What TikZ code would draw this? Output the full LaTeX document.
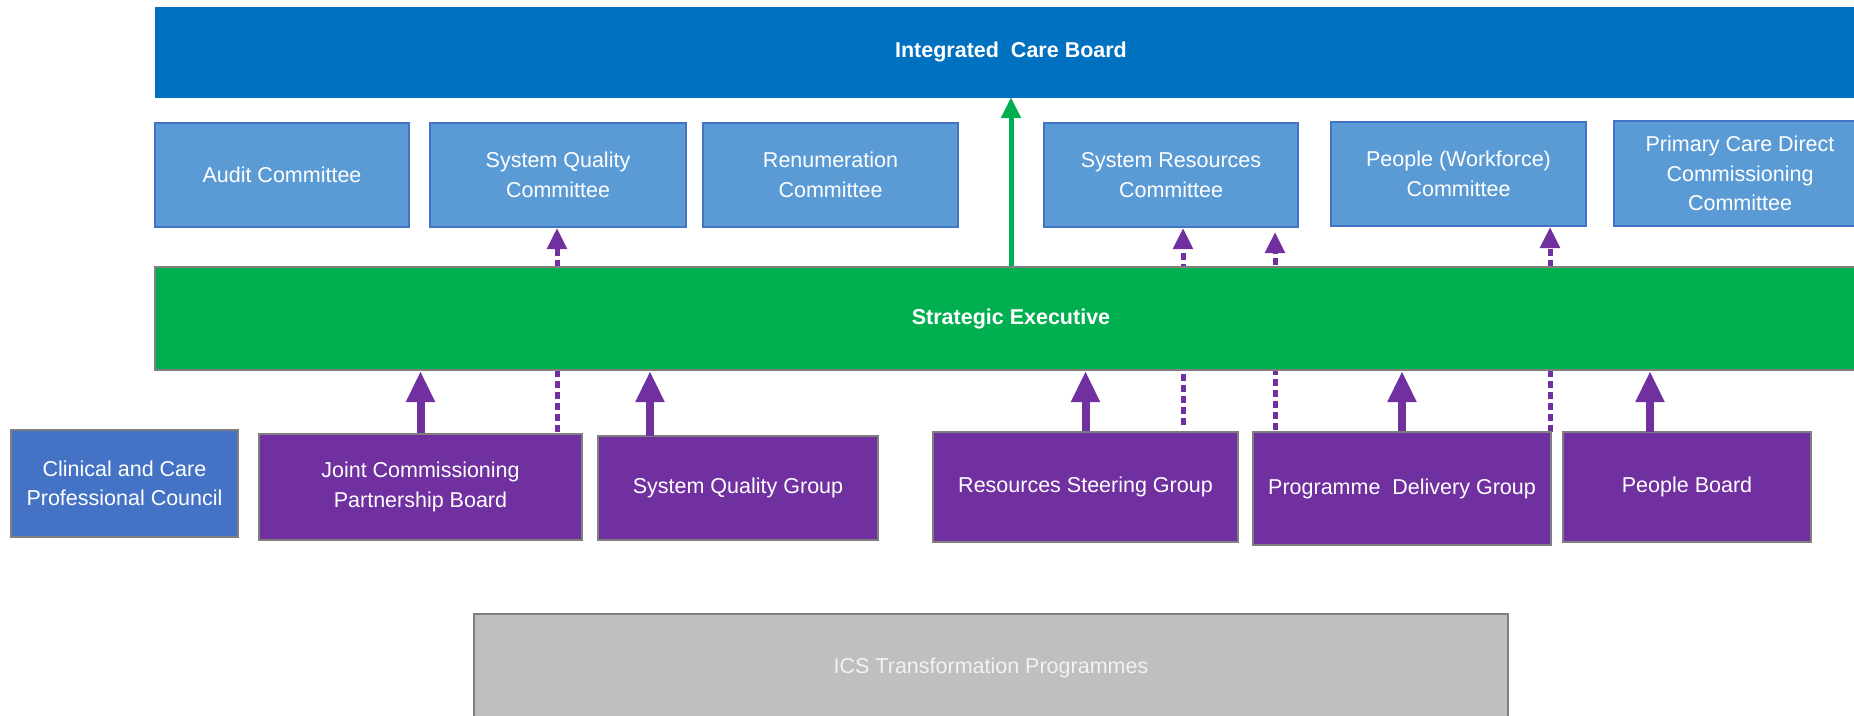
\documentclass[tikz,border=0pt]{standalone}
\usepackage{fontspec}
\setmainfont{Liberation Sans}
\usetikzlibrary{arrows.meta}
\definecolor{icbblue}{HTML}{0070C0}
\definecolor{combblue}{HTML}{5B9BD5}
\definecolor{comborder}{HTML}{4472C4}
\definecolor{segreen}{HTML}{00B050}
\definecolor{grpurple}{HTML}{7030A0}
\definecolor{boxgray}{HTML}{7F7F7F}
\definecolor{icsgray}{HTML}{BFBFBF}
\definecolor{icstext}{HTML}{F2F2F2}
\pgfdeclarelayer{bg}
\pgfsetlayers{bg,main}
\tikzset{
  base/.style={rectangle, inner sep=0pt, align=center, text=white,
    font=\fontsize{21.5}{29.5}\selectfont},
  band/.style={base, fill=icbblue, draw=icbblue, font=\fontsize{21.5}{29.5}\selectfont\bfseries},
  sebar/.style={base, fill=segreen, draw=boxgray, line width=2pt, font=\fontsize{21.5}{29.5}\selectfont\bfseries},
  combox/.style={base, fill=combblue, draw=comborder, line width=2pt},
  grpbox/.style={base, fill=grpurple, draw=boxgray, line width=2pt},
  ccbox/.style={base, fill=comborder, draw=boxgray, line width=2pt},
  icsbox/.style={base, fill=icsgray, draw=boxgray, line width=2pt, text=icstext},
  solidup/.style={draw=grpurple, line width=8pt, -{Triangle[width=27pt,length=31pt]}},
  dashup/.style={draw=grpurple, line width=5pt, dash pattern=on 7pt off 4pt, -{Triangle[width=19pt,length=21pt]}},
  greenup/.style={draw=segreen, line width=5pt, -{Triangle[width=19pt,length=21pt]}}
}
\begin{document}
\begin{tikzpicture}[x=1pt,y=-1pt]
\useasboundingbox (0,0) rectangle (1854,715);
\clip (0,0) rectangle (1854,715);
% top band
\node[band, minimum width=1712pt, minimum height=90pt] (ICB) at (1011,52) {Integrated\ \ Care Board};
% committees
\node[combox, minimum width=254pt, minimum height=104pt] (AUD) at (282,175) {Audit Committee};
\node[combox, minimum width=256pt, minimum height=104pt] (SQC) at (558,175) {System Quality\\Committee};
\node[combox, minimum width=255pt, minimum height=104pt] (REN) at (830.5,175) {Renumeration\\Committee};
\node[combox, minimum width=254pt, minimum height=104pt] (SRC) at (1171,175) {System Resources\\Committee};
\node[combox, minimum width=255pt, minimum height=104pt] (PWC) at (1458.5,174) {People (Workforce)\\Committee};
\node[combox, minimum width=252pt, minimum height=105pt] (PCD) at (1740,173.5) {Primary Care Direct\\Commissioning\\Committee};
% strategic executive
\node[sebar, minimum width=1712pt, minimum height=103pt] (SE) at (1011,318.5) {Strategic Executive};
% lower groups
\node[ccbox, minimum width=227pt, minimum height=107pt] (CCPC) at (124.5,483.5) {Clinical and Care\\Professional Council};
\node[grpbox, minimum width=323pt, minimum height=106pt] (JCPB) at (420.5,487) {Joint Commissioning\\Partnership Board};
\node[grpbox, minimum width=280pt, minimum height=104pt] (SQG) at (738,488) {System Quality Group};
\node[grpbox, minimum width=305pt, minimum height=110pt] (RSG) at (1085.5,487) {Resources Steering Group};
\node[grpbox, minimum width=298pt, minimum height=113pt] (PDG) at (1402,488.5) {Programme\ \ Delivery Group};
\node[grpbox, minimum width=248pt, minimum height=110pt] (PB) at (1687,487) {People Board};
% ICS
\node[icsbox, minimum width=1034pt, minimum height=108pt] (ICS) at (991,668) {ICS Transformation Programmes};
% connector anchors
\coordinate (sqgA) at (650,436);
\coordinate (pbA) at (1650,432);
\coordinate (d1) at (557,432);
\coordinate (d2) at (1183,425);
\coordinate (d3) at (1275,430);
\coordinate (d3t) at (1275,232);
\coordinate (d4) at (1550,432);
% dashed reporting lines (behind the executive bar)
\begin{pgfonlayer}{bg}
\draw[dashup] (d1) -- (d1 |- SQC.south);
\draw[dashup] (d2) -- (d2 |- SRC.south);
\draw[dashup] (d3) -- (d3t);
\draw[dashup] (d4) -- (d4 |- PWC.south);
\end{pgfonlayer}
% solid arrows
\draw[greenup] (SE.north) -- (ICB.south);
\draw[solidup] (JCPB.north) -- (JCPB.north |- SE.south);
\draw[solidup] (sqgA) -- (sqgA |- SE.south);
\draw[solidup] (RSG.north) -- (RSG.north |- SE.south);
\draw[solidup] (PDG.north) -- (PDG.north |- SE.south);
\draw[solidup] (pbA) -- (pbA |- SE.south);
\end{tikzpicture}
\end{document}
